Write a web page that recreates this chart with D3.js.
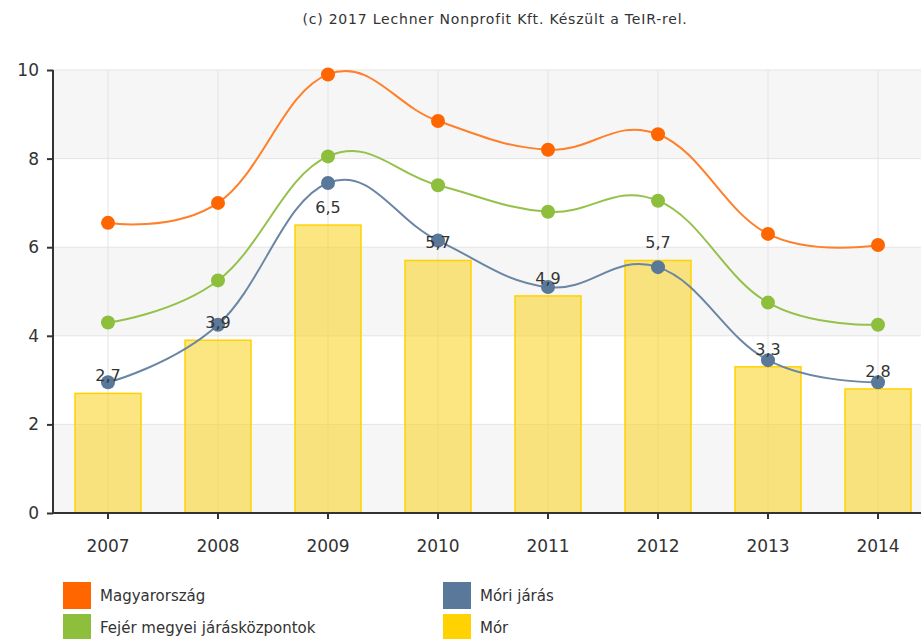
<!DOCTYPE html>
<html>
<head>
<meta charset="utf-8">
<script src="https://cdn.jsdelivr.net/npm/d3@7"></script>
<style>
	body { margin: 0; background: #fff; }
	svg { display: block; font-family: "DejaVu Sans", Verdana, sans-serif; }
</style>
</head>
<body>
<script>

// categories and series
var years = ["2007", "2008", "2009", "2010", "2011", "2012", "2013", "2014"];
var magyarorszag = [6.55, 7.0, 9.9, 8.85, 8.2, 8.55, 6.3, 6.05];
var fejer = [4.3, 5.25, 8.05, 7.4, 6.8, 7.05, 4.75, 4.25];
var mori = [2.95, 4.25, 7.45, 6.15, 5.1, 5.55, 3.45, 2.95];
var mor = [2.7, 3.9, 6.5, 5.7, 4.9, 5.7, 3.3, 2.8];
var yTicks = [0, 2, 4, 6, 8, 10];

var lineSeries = [
	{name: "Magyarország", values: magyarorszag, col: "#ff6600", line: "#ff7f2a"},
	{name: "Fejér megyei járásközpontok", values: fejer, col: "#8dbf3d", line: "#93c24a"},
	{name: "Móri járás", values: mori, col: "#5a7899", line: "#6a86a4"}
];
var legend = [
	{name: "Magyarország", col: "#ff6600", col2: 0, row: 0},
	{name: "Fejér megyei járásközpontok", col: "#8dbf3d", col2: 0, row: 1},
	{name: "Móri járás", col: "#5a7899", col2: 1, row: 0},
	{name: "Mór", col: "#ffd200", col2: 1, row: 1}
];

var W = 921, H = 639;
var margin = {top: 70, left: 53},
		plotW = 880,
		plotH = 443;

var svg = d3.select("body").append("svg")
	.attr("width", W)
	.attr("height", H)
	.style("overflow", "hidden");

svg.append("text")
	.attr("x", 495)
	.attr("y", 24)
	.attr("text-anchor", "middle")
	.attr("fill", "#333")
	.style("font-size", "14px")
	.style("letter-spacing", "0.8px")
	.text("(c) 2017 Lechner Nonprofit Kft. Készült a TeIR-rel.");

var g = svg.append("g")
	.attr("transform", "translate(" + margin.left + "," + margin.top + ")");

var x = d3.scaleBand().domain(years).range([0, plotW]);
var y = d3.scaleLinear().domain([0, 10]).range([plotH, 0]);
var cx = function(i) { return x(years[i]) + x.bandwidth() / 2; };

// alternating bands
g.selectAll("rect.band")
	.data(yTicks.slice(0, -1).filter(function(d, i) { return i % 2 === 0; }))
	.enter().append("rect")
		.attr("class", "band")
		.attr("x", 0)
		.attr("width", plotW)
		.attr("y", function(d) { return y(d + 2); })
		.attr("height", function(d) { return y(d) - y(d + 2); })
		.attr("fill", "#f6f6f6");

// grid
g.selectAll("line.hgrid")
	.data(yTicks)
	.enter().append("line")
		.attr("x1", 0).attr("x2", plotW)
		.attr("y1", function(d) { return y(d); })
		.attr("y2", function(d) { return y(d); })
		.attr("stroke", "#e4e4e4");

g.selectAll("line.vgrid")
	.data(years)
	.enter().append("line")
		.attr("x1", function(d) { return x(d) + x.bandwidth() / 2; })
		.attr("x2", function(d) { return x(d) + x.bandwidth() / 2; })
		.attr("y1", 0).attr("y2", plotH)
		.attr("stroke", "#e4e4e4");

// bars
var barW = 66;
g.selectAll("rect.bar")
	.data(mor)
	.enter().append("rect")
		.attr("x", function(d, i) { return cx(i) - barW / 2; })
		.attr("width", barW)
		.attr("y", function(d) { return y(d); })
		.attr("height", function(d) { return y(0) - y(d); })
		.attr("fill", "#f7d21a")
		.attr("fill-opacity", 0.55)
		.attr("stroke", "#ffd200")
		.attr("stroke-width", 1.5);

// lines
var line = d3.line()
	.x(function(d, i) { return cx(i); })
	.y(function(d) { return y(d); })
	.curve(d3.curveCardinal.tension(-0.2));

lineSeries.forEach(function(s) {
	g.append("path")
		.attr("d", line(s.values))
		.attr("fill", "none")
		.attr("stroke", s.line)
		.attr("stroke-width", 2);
	g.selectAll(null)
		.data(s.values)
		.enter().append("circle")
			.attr("cx", function(d, i) { return cx(i); })
			.attr("cy", function(d) { return y(d); })
			.attr("r", 7)
			.attr("fill", s.col);
});

// bar labels
g.selectAll("text.lbl")
	.data(mor)
	.enter().append("text")
		.attr("x", function(d, i) { return cx(i); })
		.attr("y", function(d) { return y(d) - 12; })
		.attr("text-anchor", "middle")
		.attr("fill", "#333")
		.style("font-size", "16px")
		.text(function(d) { return d.toFixed(1).replace(".", ","); });

// axes
var yAxis = g.append("g")
	.call(d3.axisLeft(y).tickValues(yTicks).tickSize(6).tickPadding(8));
var xAxis = g.append("g")
	.attr("transform", "translate(0," + plotH + ")")
	.call(d3.axisBottom(x).tickSize(6).tickPadding(21));

[yAxis, xAxis].forEach(function(a) {
	a.select(".domain").attr("stroke", "#333").attr("stroke-width", 2);
	a.selectAll(".tick line").attr("stroke", "#333").attr("stroke-width", 2);
	a.selectAll(".tick text").attr("fill", "#333")
		.style("font-family", "'DejaVu Sans', sans-serif")
		.style("font-size", "17px");
});
xAxis.select(".domain").attr("d", "M0,0H" + plotW);
yAxis.select(".domain").attr("d", "M0,0V" + plotH);

// legend
var lg = svg.selectAll("g.legend")
	.data(legend)
	.enter().append("g")
		.attr("transform", function(d) {
			return "translate(" + (63 + d.col2 * 380) + "," + (582 + d.row * 32) + ")";
		});
lg.append("rect")
	.attr("width", 28)
	.attr("height", 27)
	.attr("fill", function(d) { return d.col; });
lg.append("text")
	.attr("x", 37)
	.attr("y", 19)
	.attr("fill", "#333")
	.style("font-size", "15px")
	.text(function(d) { return d.name; });

</script>
</body>
</html>
